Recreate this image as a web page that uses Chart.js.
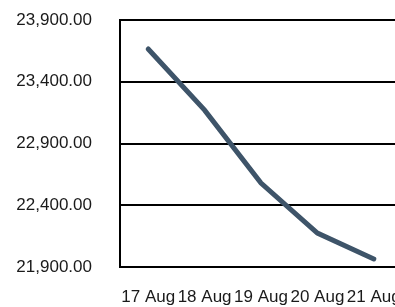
<!DOCTYPE html>
<html>
<head>
<meta charset="utf-8">
<script src="https://cdn.jsdelivr.net/npm/chart.js@4"></script>
<style>
html,body{margin:0;padding:0;overflow:hidden;background:#fff;width:395px;height:307px;}
canvas{display:block;}
</style>
</head>
<body>
<canvas id="c" width="402" height="307"></canvas>
<script>
const categories = ["17 Aug", "18 Aug", "19 Aug", "20 Aug", "21 Aug"];
const values = [23665, 23170, 22580, 22175, 21965];
const yTicks = [21900, 22400, 22900, 23400, 23900];

new Chart(document.getElementById('c'), {
  type: 'line',
  data: {
    labels: categories,
    datasets: [{
      data: values,
      borderColor: '#3e5469',
      borderWidth: 5,
      borderCapStyle: 'round',
      pointRadius: 0,
      tension: 0,
      fill: false
    }]
  },
  options: {
    responsive: false,
    animation: false,
    layout: { padding: { top: 20, right: 0, bottom: 0, left: 0 } },
    plugins: { legend: { display: false }, tooltip: { enabled: false } },
    scales: {
      x: {
        offset: true,
        grid: { display: false, drawTicks: false },
        border: { display: true, color: '#000', width: 2 },
        ticks: {
          color: '#1a1a1a',
          font: { family: 'Liberation Sans, Arial', size: 17 },
          padding: 20,
          maxRotation: 0,
          autoSkip: false
        },
        afterFit: s => { s.height = 40; s.paddingLeft = 0; s.paddingRight = 0; }
      },
      y: {
        min: yTicks[0],
        max: yTicks[yTicks.length - 1],
        afterBuildTicks: s => { s.ticks = yTicks.map(v => ({ value: v })); },
        grid: { color: '#000', lineWidth: 2, drawTicks: false },
        border: { display: true, color: '#000', width: 2 },
        ticks: {
          color: '#1a1a1a',
          font: { family: 'Liberation Sans, Arial', size: 17 },
          padding: 28,
          callback: v => Number(v).toLocaleString('en-US', { minimumFractionDigits: 2, maximumFractionDigits: 2 })
        },
        afterFit: s => { s.width = 120; s.paddingTop = 0; s.paddingBottom = 0; }
      }
    }
  }
});
</script>
</body>
</html>
